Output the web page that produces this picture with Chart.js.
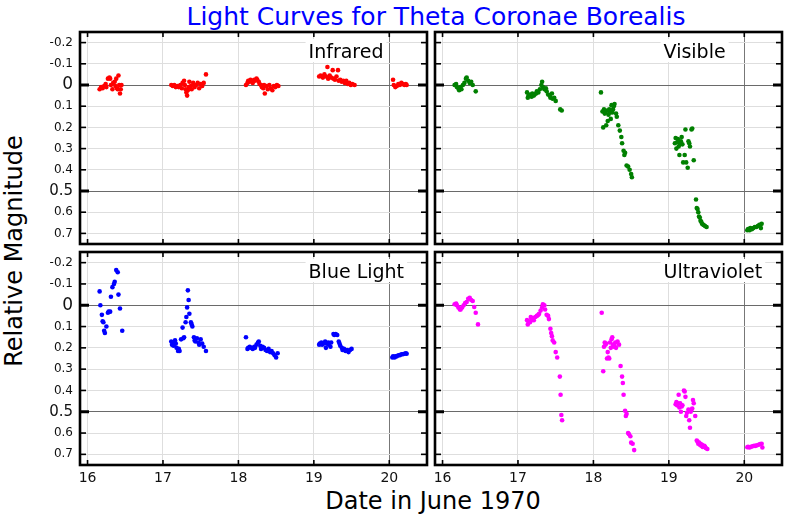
<!DOCTYPE html>
<html>
<head>
<meta charset="utf-8">
<script src="https://cdn.jsdelivr.net/npm/chart.js@4.4.1/dist/chart.umd.min.js"></script>
<style>
  body { margin: 0; background: #fff; }
  #wrap { position: relative; width: 800px; height: 520px; font-family: "DejaVu Sans", sans-serif; }
  canvas { position: absolute; }
  .txt { position: absolute; white-space: nowrap; color: #000; }
</style>
</head>
<body>
<div id="wrap">
  <div class="txt" id="title" style="left:0;width:872px;top:2px;text-align:center;font-size:25px;color:#0000ff;">Light Curves for Theta Coronae Borealis</div>
  <div class="txt" id="ylabel" style="left:14px;top:251px;font-size:24px;transform:translate(-50%,-50%) rotate(-90deg);">Relative Magnitude</div>
  <div class="txt" style="left:0;width:866px;top:487px;text-align:center;font-size:24px;">Date in June 1970</div>
  <canvas id="c_ir" width="431" height="248" style="left:0;top:0"></canvas>
  <canvas id="c_vis" width="369" height="248" style="left:431px;top:0"></canvas>
  <canvas id="c_blue" width="431" height="272" style="left:0;top:248px"></canvas>
  <canvas id="c_uv" width="369" height="272" style="left:431px;top:248px"></canvas>
</div>
<script>
// 軸の目盛り
const xTicks = [16, 17, 18, 19, 20];
const yTicks = [-0.2, -0.1, 0, 0.1, 0.2, 0.3, 0.4, 0.5, 0.6, 0.7];
const yTickLabels = ['-0.2', '-0.1', '0', '0.1', '0.2', '0.3', '0.4', '0.5', '0.6', '0.7'];
const panelNames = ['Infrared', 'Visible', 'Blue Light', 'Ultraviolet'];

// 観測値 [日付, 相対等級]
const infrared = [
  [16.16,0.02],[16.18,0.01],[16.20,0.015],[16.22,0.005],[16.24,-0.005],[16.25,0.01],[16.27,-0.03],[16.29,-0.035],
  [16.30,-0.03],[16.31,0.0],[16.33,0.02],[16.34,-0.01],[16.36,-0.015],[16.37,0.005],[16.38,-0.03],[16.39,0.015],
  [16.40,0.02],[16.41,-0.045],[16.42,0.0],[16.43,0.04],[16.44,0.02],[16.45,0.0],
  [17.11,0.0],[17.13,0.005],[17.15,0.0],[17.17,0.01],[17.19,0.005],[17.21,0.01],[17.23,0.0],[17.25,0.015],
  [17.26,-0.01],[17.28,-0.02],[17.29,0.0],[17.30,0.02],[17.31,0.035],[17.32,0.05],[17.33,0.025],[17.34,0.01],
  [17.35,-0.015],[17.37,0.005],[17.38,0.02],[17.40,-0.01],[17.42,0.01],[17.44,0.0],[17.46,-0.01],[17.48,0.015],
  [17.50,-0.005],[17.52,0.005],[17.54,-0.01],[17.57,-0.05],
  [18.10,0.0],[18.12,-0.01],[18.13,-0.02],[18.15,-0.015],[18.16,-0.025],[18.18,-0.02],[18.19,-0.01],[18.21,-0.025],
  [18.22,-0.02],[18.24,-0.03],[18.25,-0.025],[18.27,-0.015],[18.28,-0.005],[18.30,0.0],[18.31,0.01],[18.33,0.015],
  [18.34,0.0],[18.35,0.04],[18.37,0.005],[18.39,0.02],[18.41,0.0],[18.43,0.015],[18.45,0.025],[18.47,0.005],
  [18.49,0.01],[18.51,0.0],[18.53,0.005],
  [19.07,-0.04],[19.09,-0.045],[19.11,-0.04],[19.12,-0.035],[19.14,-0.05],[19.16,-0.04],[19.18,-0.085],[19.19,-0.03],
  [19.21,-0.045],[19.23,-0.035],[19.25,-0.07],[19.26,-0.03],[19.28,-0.025],[19.30,-0.04],[19.32,-0.07],[19.33,-0.02],
  [19.35,-0.025],[19.37,-0.015],[19.39,-0.02],[19.41,-0.01],[19.43,-0.02],[19.45,-0.005],[19.47,-0.01],[19.49,0.0],
  [19.51,-0.005],[19.54,0.0],
  [20.05,-0.025],[20.06,0.0],[20.08,0.01],[20.10,0.005],[20.12,-0.005],[20.14,0.0],[20.16,-0.01],[20.18,-0.005],
  [20.20,0.0],[20.22,-0.005],[20.23,0.0]
];

const visible = [
  [16.16,0.0],[16.18,-0.005],[16.19,0.01],[16.21,0.015],[16.22,0.025],[16.24,0.01],[16.25,0.02],[16.27,0.0],
  [16.29,-0.01],[16.31,-0.03],[16.32,-0.035],[16.34,-0.02],[16.36,-0.01],[16.38,-0.015],[16.40,0.0],[16.44,0.03],
  [17.12,0.035],[17.13,0.06],[17.14,0.05],[17.16,0.045],[17.18,0.055],[17.19,0.04],[17.21,0.05],[17.22,0.045],
  [17.24,0.04],[17.25,0.03],[17.27,0.035],[17.29,0.02],[17.31,0.0],[17.32,-0.015],[17.33,0.01],[17.35,0.02],
  [17.37,0.015],[17.38,0.03],[17.40,0.045],[17.42,0.05],[17.43,0.06],[17.45,0.04],[17.46,0.065],[17.48,0.06],
  [17.50,0.075],[17.56,0.115],[17.58,0.12],
  [18.10,0.035],[18.12,0.125],[18.13,0.2],[18.14,0.115],[18.15,0.135],[18.16,0.13],[18.17,0.19],[18.18,0.12],
  [18.19,0.17],[18.20,0.14],[18.21,0.115],[18.22,0.13],[18.23,0.16],[18.24,0.095],[18.25,0.13],[18.26,0.115],
  [18.27,0.1],[18.28,0.09],[18.30,0.135],[18.31,0.15],[18.33,0.19],[18.35,0.215],[18.37,0.245],[18.38,0.275],
  [18.40,0.31],[18.41,0.33],[18.42,0.32],[18.44,0.38],[18.46,0.385],[18.48,0.4],[18.50,0.42],[18.51,0.435],
  [19.08,0.275],[19.09,0.25],[19.10,0.3],[19.11,0.27],[19.12,0.255],[19.13,0.29],[19.14,0.33],[19.15,0.28],
  [19.16,0.265],[19.17,0.245],[19.18,0.28],[19.19,0.365],[19.21,0.33],[19.22,0.21],[19.23,0.365],[19.25,0.39],
  [19.26,0.265],[19.27,0.275],[19.28,0.29],[19.30,0.21],[19.31,0.205],[19.33,0.355],
  [19.36,0.54],[19.37,0.58],[19.38,0.585],[19.39,0.6],[19.40,0.62],[19.41,0.625],[19.42,0.64],[19.43,0.645],
  [19.44,0.655],[19.46,0.66],[19.48,0.665],[19.50,0.67],
  [20.04,0.685],[20.05,0.68],[20.07,0.685],[20.08,0.675],[20.10,0.68],[20.12,0.675],[20.14,0.67],[20.16,0.67],
  [20.18,0.665],[20.20,0.66],[20.22,0.675],[20.23,0.655]
];

const blueLight = [
  [16.16,-0.065],[16.17,0.0],[16.19,0.045],[16.20,0.075],[16.21,0.08],[16.22,0.12],[16.23,0.13],[16.25,0.1],
  [16.27,0.035],[16.28,0.03],[16.30,0.03],[16.31,-0.04],[16.33,-0.085],[16.35,-0.1],[16.36,-0.11],[16.38,-0.165],
  [16.40,-0.155],[16.41,-0.05],[16.43,0.015],[16.46,0.12],
  [17.11,0.17],[17.12,0.185],[17.13,0.175],[17.14,0.19],[17.15,0.18],[17.16,0.165],[17.17,0.18],[17.18,0.2],
  [17.20,0.215],[17.21,0.205],[17.22,0.215],[17.24,0.16],[17.26,0.105],[17.27,0.155],[17.28,0.15],[17.30,0.08],
  [17.31,0.055],[17.32,0.01],[17.33,-0.07],[17.34,-0.025],[17.35,0.04],[17.37,0.08],[17.38,0.09],[17.39,0.1],
  [17.41,0.15],[17.42,0.165],[17.43,0.17],[17.45,0.155],[17.47,0.175],[17.48,0.185],[17.50,0.16],[17.52,0.18],
  [17.54,0.195],[17.57,0.215],
  [18.10,0.15],[18.12,0.205],[18.13,0.2],[18.15,0.195],[18.17,0.2],[18.19,0.205],[18.21,0.195],[18.22,0.2],
  [18.24,0.185],[18.26,0.175],[18.27,0.17],[18.29,0.19],[18.30,0.205],[18.32,0.195],[18.34,0.2],[18.36,0.21],
  [18.38,0.215],[18.40,0.205],[18.42,0.22],[18.44,0.215],[18.46,0.225],[18.48,0.235],[18.50,0.245],[18.52,0.225],
  [19.07,0.185],[19.08,0.18],[19.10,0.175],[19.11,0.185],[19.13,0.18],[19.15,0.17],[19.16,0.2],[19.17,0.18],
  [19.19,0.175],[19.20,0.185],[19.22,0.195],[19.23,0.175],[19.26,0.135],[19.27,0.14],[19.29,0.135],[19.31,0.14],
  [19.33,0.17],[19.34,0.18],[19.35,0.19],[19.37,0.2],[19.38,0.21],[19.40,0.205],[19.42,0.215],[19.44,0.21],
  [19.46,0.22],[19.48,0.21],[19.50,0.205],
  [20.04,0.245],[20.05,0.24],[20.07,0.245],[20.08,0.24],[20.10,0.24],[20.12,0.235],[20.14,0.235],[20.16,0.23],
  [20.18,0.23],[20.20,0.228],[20.22,0.225],[20.23,0.228]
];

const ultraviolet = [
  [16.16,-0.005],[16.18,-0.008],[16.19,0.0],[16.21,0.01],[16.23,0.02],[16.24,0.02],[16.26,0.01],[16.28,0.0],
  [16.30,-0.01],[16.32,-0.015],[16.34,-0.03],[16.36,-0.035],[16.38,-0.025],[16.40,-0.02],[16.42,0.008],[16.44,0.035],
  [16.47,0.09],
  [17.12,0.07],[17.13,0.09],[17.14,0.075],[17.16,0.08],[17.17,0.055],[17.18,0.065],[17.20,0.06],[17.21,0.07],
  [17.23,0.055],[17.25,0.05],[17.27,0.045],[17.28,0.04],[17.30,0.025],[17.32,0.01],[17.33,-0.005],[17.35,0.0],
  [17.36,0.02],[17.38,0.045],[17.40,0.05],[17.41,0.065],[17.43,0.11],[17.44,0.13],[17.45,0.145],[17.46,0.165],
  [17.48,0.175],[17.50,0.22],[17.52,0.245],[17.555,0.335],[17.565,0.42],[17.575,0.515],[17.585,0.54],
  [18.11,0.035],[18.13,0.31],[18.14,0.195],[18.15,0.175],[18.16,0.185],[18.17,0.18],[18.18,0.25],[18.19,0.22],
  [18.20,0.245],[18.21,0.25],[18.22,0.175],[18.23,0.2],[18.24,0.16],[18.25,0.15],[18.26,0.185],[18.27,0.195],
  [18.28,0.19],[18.29,0.175],[18.30,0.2],[18.32,0.17],[18.34,0.185],[18.36,0.285],[18.38,0.335],[18.39,0.365],
  [18.40,0.42],[18.42,0.495],[18.43,0.52],[18.44,0.51],[18.46,0.6],[18.47,0.605],[18.49,0.615],[18.50,0.645],
  [18.52,0.65],[18.54,0.68],
  [19.09,0.465],[19.10,0.455],[19.11,0.47],[19.12,0.46],[19.13,0.42],[19.14,0.48],[19.15,0.46],[19.16,0.5],
  [19.17,0.475],[19.18,0.47],[19.20,0.4],[19.21,0.405],[19.22,0.43],[19.23,0.52],[19.24,0.505],[19.26,0.49],
  [19.27,0.54],[19.28,0.575],[19.29,0.5],[19.30,0.49],[19.31,0.485],[19.32,0.445],[19.33,0.46],[19.35,0.52],
  [19.37,0.635],[19.38,0.64],[19.39,0.65],[19.40,0.645],[19.41,0.655],[19.42,0.65],[19.43,0.66],[19.44,0.655],
  [19.45,0.665],[19.47,0.66],[19.48,0.665],[19.49,0.67],[19.51,0.675],
  [20.04,0.667],[20.05,0.665],[20.07,0.668],[20.09,0.664],[20.11,0.662],[20.13,0.66],[20.15,0.66],[20.17,0.657],
  [20.19,0.655],[20.21,0.652],[20.23,0.65],[20.24,0.668]
];

const LABEL_X = 18.93; // パネル名の左端（日付）

// 枠・内向きの目盛り・パネル名を描くプラグイン
const framePlugin = {
  id: 'frame',
  beforeDatasetsDraw(chart) {
    const { ctx, chartArea: a, scales: { x } } = chart;
    const name = chart.options.plugins.frame.name;
    ctx.save();
    ctx.font = '19px "DejaVu Sans"';
    const lx = x.getPixelForValue(LABEL_X);
    const base = a.top + 26;
    const w = ctx.measureText(name).width;
    ctx.fillStyle = '#fff';
    ctx.fillRect(lx - 3, base - 19, w + 6, 23);
    ctx.fillStyle = '#000';
    ctx.textBaseline = 'alphabetic';
    ctx.fillText(name, lx, base);
    ctx.restore();
  },
  afterDraw(chart) {
    const { ctx, chartArea: a, scales: { x, y } } = chart;
    ctx.save();
    ctx.strokeStyle = '#000';
    const seg = (x1, y1, x2, y2) => { ctx.beginPath(); ctx.moveTo(x1, y1); ctx.lineTo(x2, y2); ctx.stroke(); };
    yTicks.forEach(v => {
      const py = y.getPixelForValue(v);
      const major = v === 0 || v === 0.5;
      ctx.lineWidth = major ? 3 : 1.6;
      const len = major ? 9 : 6;
      seg(a.left, py, a.left + len, py);
      seg(a.right, py, a.right - len, py);
    });
    xTicks.forEach(v => {
      const px = x.getPixelForValue(v);
      ctx.lineWidth = 1.6;
      seg(px, a.bottom, px, a.bottom - 5);
      seg(px, a.top, px, a.top + 5);
    });
    ctx.lineWidth = 2.6;
    ctx.strokeRect(a.left, a.top, a.right - a.left, a.bottom - a.top);
    ctx.restore();
  }
};

// 軸ラベルのはみ出しで描画領域が縮まないようにする
function noPad(s) {
  s.paddingTop = 0;
  s.paddingBottom = 0;
  s.paddingLeft = 0;
  s.paddingRight = 0;
}

function yTickSize(v) {
  if (v === 0) return 17;
  if (v === 0.5) return 15;
  return 12;
}

function makePanel(id, name, points, color, showY, showX, pad) {
  return new Chart(document.getElementById(id), {
    type: 'scatter',
    data: {
      datasets: [{
        data: points.map(p => ({ x: p[0], y: p[1] })),
        backgroundColor: color,
        borderWidth: 0,
        pointRadius: 2.3
      }]
    },
    plugins: [framePlugin],
    options: {
      responsive: false,
      animation: false,
      devicePixelRatio: 1,
      layout: { padding: pad },
      plugins: {
        legend: { display: false },
        tooltip: { enabled: false },
        frame: { name: name }
      },
      scales: {
        x: {
          type: 'linear',
          min: 15.9,
          max: 20.5,
          afterBuildTicks: s => { s.ticks = xTicks.map(v => ({ value: v })); },
          afterFit: s => { s.height = showX ? 55 : 0; noPad(s); },
          border: { display: false },
          grid: {
            drawTicks: false,
            color: c => (c.tick && c.tick.value === 20 ? '#777' : '#dedede'),
            lineWidth: 1
          },
          ticks: {
            display: showX,
            padding: 5,
            color: '#111',
            font: { family: '"DejaVu Sans"', size: 14 },
            callback: v => String(v)
          }
        },
        y: {
          type: 'linear',
          reverse: true,
          min: -0.25,
          max: 0.75,
          afterBuildTicks: s => { s.ticks = yTicks.map(v => ({ value: v })); },
          afterFit: s => { s.width = showY ? 80 : 0; noPad(s); },
          border: { display: false },
          grid: {
            drawTicks: false,
            color: c => (c.tick && (c.tick.value === 0 || c.tick.value === 0.5) ? '#6a6a6a' : '#dedede'),
            lineWidth: 1
          },
          ticks: {
            display: showY,
            padding: 7,
            color: '#111',
            font: c => ({ family: '"DejaVu Sans"', size: c.tick ? yTickSize(c.tick.value) : 12 }),
            callback: (v, i) => yTickLabels[i]
          }
        }
      }
    }
  });
}

makePanel('c_ir', panelNames[0], infrared, '#ff0000', true, false, { top: 32, right: 2, bottom: 2, left: 0 });
makePanel('c_vis', panelNames[1], visible, '#008000', false, false, { top: 32, right: 18, bottom: 2, left: 2 });
makePanel('c_blue', panelNames[2], blueLight, '#0000ff', true, true, { top: 3, right: 2, bottom: 0, left: 0 });
makePanel('c_uv', panelNames[3], ultraviolet, '#ff00ff', false, true, { top: 3, right: 18, bottom: 0, left: 2 });
</script>
</body>
</html>
